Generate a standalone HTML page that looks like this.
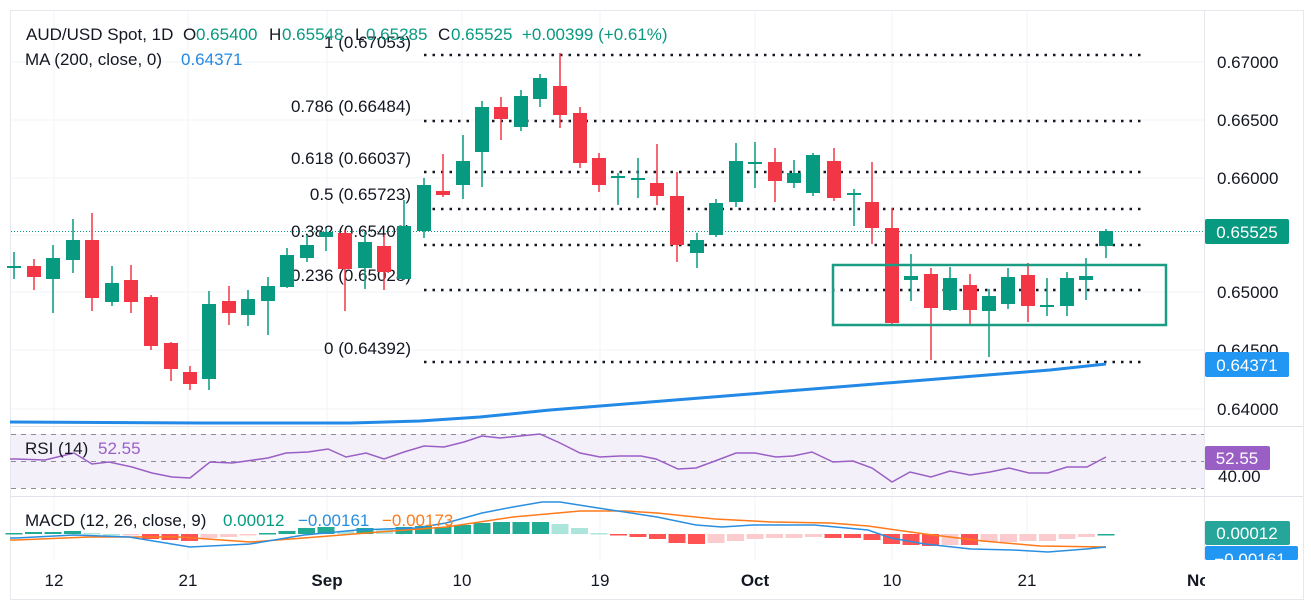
<!DOCTYPE html>
<html><head><meta charset="utf-8"><style>
html,body{margin:0;padding:0;background:#fff;}
svg{display:block;font-family:"Liberation Sans",sans-serif;}
</style></head><body>
<svg id="s" width="1311" height="614" viewBox="0 0 1311 614" xmlns="http://www.w3.org/2000/svg">
<rect x="0" y="0" width="1311" height="614" fill="#fff"/>
<rect x="10.5" y="10.5" width="1293" height="589" fill="none" stroke="#e6e8ee"/>
<g stroke="#f1f3f7" stroke-width="1">
<line x1="54" y1="11" x2="54" y2="560"/><line x1="188" y1="11" x2="188" y2="560"/><line x1="327" y1="11" x2="327" y2="560"/><line x1="462" y1="11" x2="462" y2="560"/><line x1="600" y1="11" x2="600" y2="560"/><line x1="755" y1="11" x2="755" y2="560"/><line x1="892" y1="11" x2="892" y2="560"/><line x1="1027" y1="11" x2="1027" y2="560"/>
<line x1="11" y1="62" x2="1204" y2="62"/><line x1="11" y1="120" x2="1204" y2="120"/><line x1="11" y1="178" x2="1204" y2="178"/><line x1="11" y1="235" x2="1204" y2="235"/><line x1="11" y1="292" x2="1204" y2="292"/><line x1="11" y1="350" x2="1204" y2="350"/><line x1="11" y1="409" x2="1204" y2="409"/>
</g>
<line x1="1204.5" y1="11" x2="1204.5" y2="560" stroke="#e6e8ee"/>
<line x1="11" y1="426.5" x2="1303" y2="426.5" stroke="#e0e3eb"/>
<line x1="11" y1="496.5" x2="1303" y2="496.5" stroke="#e0e3eb"/>
<rect x="11" y="434" width="1193" height="54" fill="#f3f0fa"/>
<g stroke="#8a8d96" stroke-dasharray="5,5" stroke-width="1">
<line x1="11" y1="434.5" x2="1204" y2="434.5"/><line x1="11" y1="461.5" x2="1204" y2="461.5"/><line x1="11" y1="488.5" x2="1204" y2="488.5"/>
</g>
<line x1="11" y1="231.5" x2="1204" y2="231.5" stroke="#089981" stroke-dasharray="1,2" stroke-width="1"/>
<g stroke="#131722" stroke-width="2.5" stroke-dasharray="2.5,6">
<line x1="424" y1="55" x2="1145" y2="55"/><line x1="424" y1="121" x2="1145" y2="121"/><line x1="424" y1="172" x2="1145" y2="172"/><line x1="424" y1="209" x2="1145" y2="209"/><line x1="424" y1="245" x2="1145" y2="245"/><line x1="424" y1="290" x2="1145" y2="290"/><line x1="424" y1="362" x2="1145" y2="362"/>
</g>
<g font-size="17" fill="#131722" text-anchor="end">
<text x="411" y="48">1 (0.67053)</text>
<text x="411" y="112">0.786 (0.66484)</text>
<text x="411" y="164">0.618 (0.66037)</text>
<text x="411" y="200">0.5 (0.65723)</text>
<text x="411" y="237">0.382 (0.65409)</text>
<text x="411" y="281">0.236 (0.65028)</text>
<text x="411" y="354">0 (0.64392)</text>
</g>
<polyline fill="none" stroke="#2389e6" stroke-width="3" points="10,422 200,423 350,423 420,421 480,417 550,410 650,402 750,394 850,386 950,378 1050,370 1106,364"/>
<g id="candles"></g>
<rect x="833" y="265" width="333" height="60" fill="none" stroke="#1a9c85" stroke-width="2.5"/>
<g font-size="17" fill="#131722">
<text x="26" y="40">AUD/USD Spot, 1D<tspan x="183">O</tspan><tspan x="196" fill="#089981">0.65400</tspan><tspan x="269">H</tspan><tspan x="282" fill="#089981">0.65548</tspan><tspan x="355">L</tspan><tspan x="366" fill="#089981">0.65285</tspan><tspan x="438">C</tspan><tspan x="451" fill="#089981">0.65525</tspan><tspan x="522" fill="#089981">+0.00399 (+0.61%)</tspan></text>
<text x="25" y="65">MA (200, close, 0)<tspan x="181" fill="#2389e6">0.64371</tspan></text>
</g>
<g font-size="17" fill="#131722">
<text x="1217" y="68">0.67000</text><text x="1217" y="126">0.66500</text><text x="1217" y="184">0.66000</text><text x="1217" y="298">0.65000</text><text x="1217" y="356">0.64500</text><text x="1217" y="415">0.64000</text>
</g>
<rect x="1205" y="219" width="84" height="25" rx="2" fill="#089981"/>
<text x="1247" y="238" font-size="17" fill="#fff" text-anchor="middle">0.65525</text>
<rect x="1205" y="352" width="84" height="25" rx="2" fill="#2196f3"/>
<text x="1247" y="371" font-size="17" fill="#fff" text-anchor="middle">0.64371</text>
<polyline fill="none" stroke="#9a5fc4" stroke-width="1.5" points="10,459 16,459 45,460 74,453 92,464 109,462 132,467 152,473 172,477 190,478 210,462 232,463 268,458 286,453 308,452 328,449 346,457 366,453 384,459 404,452 424,446 444,447 464,442 482,436 500,438 520,436 540,434 560,443 580,453 600,457 620,456 641,456 656,459 678,469 696,468 715,461 736,453 755,453 776,457 793,456 812,452 833,462 853,461 872,468 892,482 910,472 931,477 950,471 970,475 990,472 1009,468 1029,473 1048,473 1067,467 1087,467 1106,457"/>
<text x="25" y="454" font-size="17" fill="#131722">RSI (14)<tspan x="98" fill="#9a5fc4">52.55</tspan></text>
<text x="1218" y="482" font-size="17" fill="#131722">40.00</text>
<rect x="1205" y="446" width="65" height="24" rx="2" fill="#9a5fc4"/>
<text x="1237" y="464" font-size="17" fill="#fff" text-anchor="middle">52.55</text>
<g id="hist"></g>
<polyline fill="none" stroke="#ff7a1a" stroke-width="1.5" points="10,540 16,540 89,537 179,537 250,542 304,538 379,532 446,527 513,517 580,511 625,511 657,513 715,519 772,522 830,523 868,526 925,534 983,541 1040,546 1106,547"/>
<polyline fill="none" stroke="#2a8fe0" stroke-width="1.5" points="10,538 16,538 74,535 129,537 190,547 250,544 304,535 357,530 415,528 446,523 482,513 513,507 542,502 560,502 598,508 657,517 696,525 722,527 753,525 814,525 868,530 891,538 925,544 971,549 1013,550 1048,552 1086,549 1106,547"/>
<text x="25" y="526" font-size="17" fill="#131722">MACD (12, 26, close, 9)<tspan x="223" fill="#089981">0.00012</tspan><tspan x="298" fill="#2a8fe0">−0.00161</tspan><tspan x="382" fill="#ff7a1a">−0.00173</tspan></text>
<rect x="1205" y="521" width="85" height="24" rx="2" fill="#26a69a"/>
<text x="1247" y="539" font-size="17" fill="#fff" text-anchor="middle">0.00012</text>
<clipPath id="cp"><rect x="1205" y="546" width="93" height="14"/></clipPath>
<rect x="1205" y="546" width="93" height="14" rx="2" fill="#2196f3"/>
<text x="1250" y="565" font-size="17" fill="#fff" text-anchor="middle" clip-path="url(#cp)">−0.00161</text>
<g font-size="17" fill="#131722" text-anchor="middle">
<text x="54" y="586">12</text><text x="188" y="586">21</text><text x="327" y="586" font-weight="bold">Sep</text><text x="462" y="586">10</text><text x="600" y="586">19</text><text x="755" y="586" font-weight="bold">Oct</text><text x="892" y="586">10</text><text x="1027" y="586">21</text>
<text x="1187" y="586" text-anchor="start" font-weight="bold">No</text>
</g>
<rect x="1205" y="565" width="98" height="34" fill="#fff"/>
</svg>
<script>
var C=[[14,266,267,252,279,1],[34,266,277,259,290,0],[53,258,279,245,313,1],[73,240,260,219,273,1],[92,240,298,213,311,0],[112,283,302,266,306,1],[131,280,302,265,313,0],[151,297,346,295,350,0],[171,343,369,342,381,0],[190,372,384,366,390,0],[209,304,379,291,390,1],[229,301,313,286,325,0],[248,299,315,290,326,1],[268,286,301,277,335,1],[287,255,287,248,288,1],[307,245,258,235,262,1],[326,232,237,228,251,1],[345,233,269,230,311,0],[365,242,268,232,289,1],[384,246,272,235,290,0],[404,226,279,200,280,1],[424,185,231,178,238,1],[443,191,195,154,197,0],[463,161,185,135,199,1],[482,107,152,101,187,1],[501,107,119,97,140,0],[521,96,127,90,131,1],[540,78,99,74,107,1],[560,86,115,53,128,0],[580,113,163,107,168,0],[599,158,185,153,192,0],[618,176,178,173,205,1],[638,178,180,158,198,1],[657,183,196,144,205,0],[677,196,245,172,262,0],[697,240,253,233,268,1],[716,203,235,199,237,1],[736,161,202,143,207,1],[755,162,164,142,188,1],[775,162,181,148,202,0],[794,173,183,160,188,1],[813,155,193,153,196,1],[834,161,198,148,201,0],[854,193,195,189,226,1],[872,202,228,162,244,0],[892,228,323,208,324,0],[911,276,280,254,301,1],[931,274,308,268,360,0],[950,278,310,267,311,1],[970,285,310,274,324,0],[989,296,311,289,357,1],[1008,277,304,268,309,1],[1028,275,306,263,322,0],[1047,305,307,278,316,1],[1067,278,306,272,316,1],[1086,276,280,258,300,1],[1106,231,246,229,258,1]];
var ns="http://www.w3.org/2000/svg",g=document.getElementById("candles");
function el(t,a,p){var e=document.createElementNS(ns,t);for(var k in a)e.setAttribute(k,a[k]);p.appendChild(e);}
C.forEach(function(c){var col=c[5]?"#089981":"#f23645";el("line",{x1:c[0],x2:c[0],y1:c[3],y2:c[4],stroke:col,"stroke-width":1.5},g);el("rect",{x:c[0]-7,y:c[1],width:14,height:Math.max(2,c[2]-c[1]),fill:col},g);});
var H=[[533,'t'],[532,'t'],[532,'t'],[531,'t'],[533,'lt'],[534,'lt'],[535,'p'],[539,'r'],[540,'r'],[541,'r'],[538,'p'],[537,'p'],[535,'p'],[533,'t'],[531,'t'],[528,'t'],[527,'t'],[531,'lt'],[528,'t'],[529,'lt'],[527,'t'],[526,'t'],[527,'t'],[525,'t'],[523,'t'],[522,'t'],[522,'t'],[522,'t'],[524,'lt'],[528,'lt'],[533,'lt'],[535,'r'],[537,'r'],[539,'r'],[543,'r'],[544,'r'],[543,'p'],[541,'p'],[539,'p'],[538,'p'],[538,'p'],[537,'p'],[538,'r'],[538,'r'],[540,'r'],[544,'r'],[545,'r'],[546,'r'],[545,'p'],[545,'r'],[542,'p'],[542,'p'],[541,'p'],[541,'p'],[539,'p'],[537,'p'],[534,'t']];
var cols={t:"#22ab94",lt:"#ace5dc",r:"#ff5252",p:"#fccbcd"},hg=document.getElementById("hist");
H.forEach(function(h,i){var x=14+i*19.5,y=h[0],b=534;var top=Math.min(y,b),ht=Math.max(1.5,Math.abs(y-b));el("rect",{x:x-8.5,y:top,width:17,height:ht,fill:cols[h[1]]},hg);});
</script>
</body></html>
